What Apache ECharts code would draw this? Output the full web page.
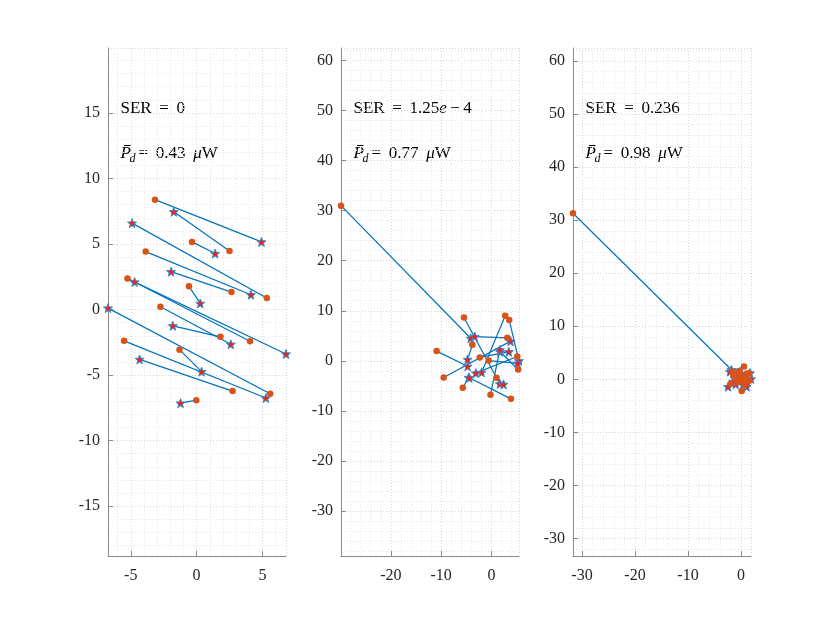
<!DOCTYPE html>
<html>
<head>
    <meta charset="UTF-8">
    <title>SER panels</title>
    <script src="https://cdn.jsdelivr.net/npm/echarts@6/dist/echarts.min.js"></script>
    <style>
        html, body { margin: 0; padding: 0; background: #fff; }
        #chart { width: 830px; height: 626px; }
    </style>
</head>
<body>
<div id="chart"></div>
<script>
    // circle i is joined to star i by a line
    var p1Circles = [[-3.16, 8.38], [-0.35, 5.16], [2.50, 4.47], [-3.87, 4.42], [-5.25, 2.36], [-0.58, 1.77],
        [2.65, 1.33], [5.33, 0.88], [-2.75, 0.21], [1.81, -2.08], [4.06, -2.42], [-5.51, -2.39],
        [-1.30, -3.06], [2.73, -6.22], [5.59, -6.42], [-0.02, -6.91]];
    var p1Stars = [[4.93, 5.16], [1.41, 4.27], [-1.73, 7.46], [4.13, 1.13], [6.79, -3.39], [0.28, 0.47],
        [-1.94, 2.89], [-4.90, 6.59], [2.60, -2.65], [-1.81, -1.24], [-4.71, 2.10], [5.26, -6.75],
        [0.38, -4.74], [-4.33, -3.80], [-6.73, 0.11], [-1.22, -7.14]];

    var p2Circles = [[-29.9, 31.0], [-5.47, 8.67], [2.73, 9.0], [3.53, 8.14], [3.13, 4.6], [-3.8, 3.2],
        [-2.33, 0.67], [-0.55, 0.05], [5.13, 0.85], [5.3, -1.73], [-9.5, -3.33], [1.0, -3.4],
        [-5.7, -5.4], [-0.2, -6.8], [3.87, -7.6], [-10.9, 1.94]];
    var p2Stars = [[-4.13, 4.5], [1.67, -4.6], [-1.95, -2.3], [5.45, 0.0], [-3.33, 4.85], [-4.75, 0.27],
        [3.45, 1.8], [5.2, -0.5], [-3.1, -2.45], [1.73, 1.8], [3.8, 3.93], [2.4, -4.7],
        [-4.55, -3.33], [1.67, 2.2], [-4.4, -3.4], [-4.75, -1.1]];

    var p3Circles = [[-31.7, 31.3], [0.57, 2.4], [-1.57, 1.45], [-0.32, 0.82], [1.57, 1.13], [0.44, 0.19],
        [-0.82, -0.13], [1.57, -0.25], [-1.94, -0.88], [0.63, -0.94], [0.13, -2.2], [-1.45, 0.82],
        [-0.5, -0.5], [1.07, 1.07], [-0.3, 1.5], [0.9, 0.5]];
    var p3Stars = [[-1.8, 1.8], [-2.07, 1.45], [1.89, 0.06], [-2.45, -1.38], [1.07, -1.38], [-1.0, -0.94],
        [1.7, 1.19], [-0.5, 0.3], [0.4, -1.0], [-1.2, 0.2], [0.2, 1.0], [1.2, -0.6],
        [-0.6, 1.2], [0.0, -0.3], [0.9, 0.8], [-1.5, -0.4]];

    var serTexts = ['{n|SER \u2009= \u20090}', '{n|SER \u2009= \u20091.25}{i|e}{n|\u2009\u2212\u20094}', '{n|SER \u2009= \u20090.236}'];
    var powerTexts = ['0.43', '0.77', '0.98'];

    // axis extents (axis equal, tight in x)
    var xRanges = [[-6.73, 6.79], [-29.9, 5.47], [-31.7, 1.89]];
    var yRanges = [[-18.8, 19.95], [-39.0, 62.5], [-33.3, 62.45]];
    var majorSteps = [5, 10, 10];

    var gridLefts = [108, 341, 573];
    var gridWidth = 178;

    var font = 'Liberation Serif, Times New Roman, serif';

    function starPath() {
        var s = 'path://';
        for (var i = 0; i < 10; i++) {
            var r = i % 2 ? 0.42 : 1;
            var a = (-90 + 36 * i) * Math.PI / 180;
            s += (i ? 'L' : 'M') + (50 + 50 * r * Math.cos(a)).toFixed(2) + ',' + (50 + 50 * r * Math.sin(a)).toFixed(2);
        }
        return s + 'Z';
    }
    var STAR = starPath();

    function makeAxis(range, step) {
        return {
            type: 'value',
            min: range[0],
            max: range[1],
            minInterval: step,
            maxInterval: step,
            axisLine: { show: true, onZero: false, lineStyle: { color: '#8a8a8a', width: 1 } },
            axisTick: { show: true, inside: true, length: 5, lineStyle: { color: '#8a8a8a' } },
            axisLabel: {
                fontFamily: font, fontSize: 16, color: '#262626',
                showMinLabel: false, showMaxLabel: false
            },
            splitLine: { show: true, lineStyle: { color: '#d6d6d6', type: [1, 2], width: 1 } },
            minorTick: { show: false, splitNumber: 5 },
            minorSplitLine: { show: true, lineStyle: { color: '#e8e8e8', type: [1, 2], width: 1 } }
        };
    }

    var grids = [], xAxes = [], yAxes = [], series = [], graphics = [];
    var allCircles = [p1Circles, p2Circles, p3Circles];
    var allStars = [p1Stars, p2Stars, p3Stars];

    for (var k = 0; k < 3; k++) {
        grids.push({ left: gridLefts[k], width: gridWidth, top: 48, height: 508 });
        var xa = makeAxis(xRanges[k], majorSteps[k]);
        xa.gridIndex = k;
        xa.axisLabel.margin = 12;
        xAxes.push(xa);
        var ya = makeAxis(yRanges[k], majorSteps[k]);
        ya.gridIndex = k;
        ya.axisLabel.margin = 8;
        yAxes.push(ya);

        var segs = [];
        for (var i = 0; i < allCircles[k].length; i++) {
            segs.push({ coords: [allCircles[k][i], allStars[k][i]] });
        }
        series.push({
            type: 'lines', coordinateSystem: 'cartesian2d', xAxisIndex: k, yAxisIndex: k,
            data: segs, silent: true, z: 1,
            lineStyle: { color: '#0072BD', width: 1.2, opacity: 1 }
        });
        series.push({
            type: 'scatter', xAxisIndex: k, yAxisIndex: k, data: allStars[k], z: 2,
            symbol: STAR, symbolSize: 9, clip: false,
            itemStyle: { color: '#E8231B', borderColor: '#3A8BD0', borderWidth: 1, opacity: 1 }
        });
        series.push({
            type: 'scatter', xAxisIndex: k, yAxisIndex: k, data: allCircles[k], z: 3,
            symbol: 'circle', symbolSize: 6.5, clip: false,
            itemStyle: { color: '#D95319', opacity: 1 }
        });

        // annotations
        var tx = gridLefts[k] + 12.5;
        graphics.push({
            type: 'text', left: tx, top: 100,
            style: {
                text: serTexts[k], fill: '#000',
                rich: {
                    n: { fontFamily: font, fontSize: 17, fill: '#000' },
                    i: { fontFamily: font, fontSize: 17, fontStyle: 'italic', fill: '#000' }
                }
            }
        });
        graphics.push({
            type: 'text', left: tx, top: 145,
            style: { text: 'P', fontFamily: font, fontSize: 17, fontStyle: 'italic', fill: '#000' }
        });
        graphics.push({
            type: 'line', shape: { x1: tx + 3.5, y1: 145.5, x2: tx + 10, y2: 145.5 },
            style: { stroke: '#000', lineWidth: 1 }
        });
        graphics.push({
            type: 'text', left: tx + 9, top: 153,
            style: { text: 'd', fontFamily: font, fontSize: 12, fontStyle: 'italic', fill: '#000' }
        });
        graphics.push({
            type: 'text', left: tx + 18, top: 145,
            style: {
                text: '{n|= \u2009' + powerTexts[k] + ' \u2009}{i|\u03bc}{n|W}',
                rich: {
                    n: { fontFamily: font, fontSize: 17, fill: '#000' },
                    i: { fontFamily: font, fontSize: 17, fontStyle: 'italic', fill: '#000' }
                }
            }
        });
    }

    var chart = echarts.init(document.getElementById('chart'));
    chart.setOption({
        animation: false,
        backgroundColor: '#fff',
        grid: grids,
        xAxis: xAxes,
        yAxis: yAxes,
        series: series,
        graphic: graphics
    });
</script>
</body>
</html>
